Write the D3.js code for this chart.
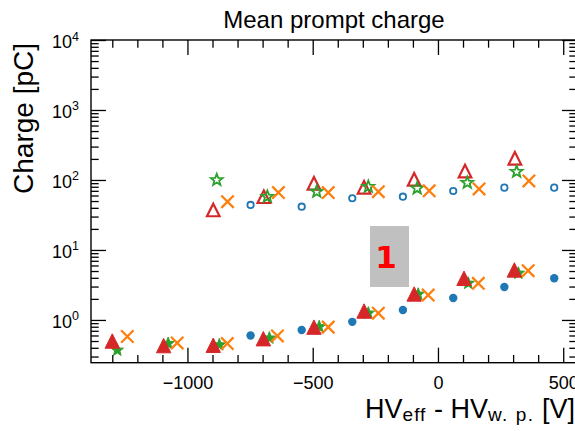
<!DOCTYPE html>
<html>
<head>
<meta charset="utf-8">
<script src="https://cdn.jsdelivr.net/npm/d3@7"></script>
<style>
  body { margin: 0; background: #fff; }
  svg { display: block; font-family: "Liberation Sans", Arial, sans-serif; }
</style>
</head>
<body>
<svg id="chart" width="575" height="431"></svg>
<script>
// blue circles (filled = low, open = high)
const blueX = [-748, -544, -342, -140, 61, 265, 464];
const blueLow = [0.60, 0.72, 0.94, 1.39, 2.06, 2.96, 3.94];
const blueHigh = [44, 41.5, 54.8, 57.7, 69.6, 77.7, 77.7];

// red triangles
const redX = [-1300, -1095, -897, -697, -495, -295, -95, 104, 305];
const redLow = [0.50, 0.43, 0.435, 0.54, 0.79, 1.34, 2.35, 3.94, 5.18];
const redHighX = [-897, -695, -495, -295, -95, 108, 307];
const redHigh = [37.3, 57.7, 89.8, 78.7, 102, 134, 204];

// green stars
const greenX = [-1280, -1077, -873, -673, -474, -278, -79, 121, 321];
const greenLow = [0.37, 0.46, 0.44, 0.55, 0.80, 1.25, 2.33, 3.34, 4.65];
const greenHighX = [-883, -681, -484, -278, -83, 117, 314];
const greenHigh = [100, 57.7, 68.2, 80, 76, 91.5, 131];

// orange crosses
const orangeX = [-1240, -1041, -841, -641, -438, -238, -39, 161, 360];
const orangeLow = [0.58, 0.47, 0.46, 0.59, 0.79, 1.25, 2.27, 3.34, 5.06];
const orangeHighX = [-840, -637, -438, -238, -35, 164, 363];
const orangeHigh = [49, 66, 66, 68, 70, 74.5, 97];

const xMajor = [-1000, -500, 0, 500];
const xMinor = d3.range(-1300, 600, 100).filter(v => xMajor.indexOf(v) < 0);
const yMajor = [1, 10, 100, 1000, 10000];
const yExp = ["0", "1", "2", "3", "4"];

const pL = 91, pR = 577, pT = 40, pB = 362.7;

const svg = d3.select("#chart");

const x = d3.scaleLinear().domain([-1385, 555]).range([pL, pR]);
const y = d3.scaleLog().domain([0.245, 10000]).range([pB, pT]);

let yMinor = [];
for (let e = -1; e < 4; e++) {
  for (let m = 2; m < 10; m++) {
    const v = m * Math.pow(10, e);
    if (v > y.domain()[0]) yMinor.push(v);
  }
}

const zip = (xs, ys) => xs.map((v, i) => ({ x: v, y: ys[i] }));

// ---- axes (ticks point inward on all four sides)
function styleAxis(g) {
  g.select(".domain").remove();
  g.selectAll(".tick line").attr("stroke", "#000").attr("stroke-width", 1.3);
  g.attr("font-family", null).attr("font-size", null);
}

svg.append("g")
  .attr("transform", `translate(0,${pB})`)
  .call(d3.axisBottom(x).tickValues(xMinor).tickSize(-7.7).tickSizeOuter(0).tickFormat(""))
  .call(styleAxis);

svg.append("g")
  .attr("transform", `translate(0,${pB})`)
  .call(d3.axisBottom(x).tickValues(xMajor).tickSize(-15).tickSizeOuter(0)
    .tickPadding(13.5).tickFormat(d3.format("d")))
  .call(styleAxis)
  .selectAll("text").attr("font-size", 18).attr("fill", "#000");

svg.append("g")
  .attr("transform", `translate(0,${pT})`)
  .call(d3.axisTop(x).tickValues(xMinor).tickSize(-7.7).tickSizeOuter(0).tickFormat(""))
  .call(styleAxis);

svg.append("g")
  .attr("transform", `translate(0,${pT})`)
  .call(d3.axisTop(x).tickValues(xMajor).tickSize(-15).tickSizeOuter(0).tickFormat(""))
  .call(styleAxis);

[[pL, d3.axisLeft], [pR, d3.axisRight]].forEach(([pos, ax]) => {
  svg.append("g")
    .attr("transform", `translate(${pos},0)`)
    .call(ax(y).tickValues(yMinor).tickSize(-7.7).tickSizeOuter(0).tickFormat(""))
    .call(styleAxis);
  svg.append("g")
    .attr("transform", `translate(${pos},0)`)
    .call(ax(y).tickValues(yMajor).tickSize(-15).tickSizeOuter(0).tickFormat(""))
    .call(styleAxis);
});

// y tick labels as 10^n
const yl = svg.append("g").attr("font-size", 18).attr("text-anchor", "end");
yMajor.forEach((v, i) => {
  const t = yl.append("text").attr("x", 79).attr("y", y(v) + 8).text("10");
  t.append("tspan").attr("dy", -7.5).attr("font-size", 12.5).text(yExp[i]);
});

// frame
svg.append("rect")
  .attr("x", pL).attr("y", pT)
  .attr("width", pR - pL).attr("height", pB - pT)
  .attr("fill", "none").attr("stroke", "#000").attr("stroke-width", 1.4);

// ---- markers
const tri = s => `M0,${-s}L${s},${s}L${-s},${s}Z`;
const star = (ro, ri) => {
  let p = "";
  for (let k = 0; k < 10; k++) {
    const r = k % 2 ? ri : ro;
    const a = -Math.PI / 2 + k * Math.PI / 5;
    p += (k ? "L" : "M") + (r * Math.cos(a)).toFixed(2) + "," + (r * Math.sin(a)).toFixed(2);
  }
  return p + "Z";
};
const cross = s => `M${-s},${-s}L${s},${s}M${-s},${s}L${s},${-s}`;

const blue = "#1f77b4", orange = "#ff7f0e", green = "#2ca02c", red = "#d62728";

const marks = svg.append("g");

function draw(data, path, fill, stroke, sw) {
  marks.append("g").selectAll("path")
    .data(data)
    .enter()
    .append("path")
    .attr("transform", d => `translate(${x(d.x)},${y(d.y)})`)
    .attr("d", path)
    .attr("fill", fill)
    .attr("stroke", stroke)
    .attr("stroke-width", sw)
    .attr("stroke-linejoin", "miter");
}

function drawCircles(data, r, fill, stroke, sw) {
  marks.append("g").selectAll("circle")
    .data(data)
    .enter()
    .append("circle")
    .attr("cx", d => x(d.x))
    .attr("cy", d => y(d.y))
    .attr("r", r)
    .attr("fill", fill)
    .attr("stroke", stroke)
    .attr("stroke-width", sw);
}

drawCircles(zip(blueX, blueLow), 4.2, blue, "none", 0);
drawCircles(zip(blueX, blueHigh), 3.2, "none", blue, 1.8);
draw(zip(greenX, greenLow), star(6.5, 2.7), green, green, 1);
draw(zip(redX, redLow), tri(7.2), red, red, 1);
draw(zip(redHighX, redHigh), tri(6.3), "none", red, 2.2);
draw(zip(greenHighX, greenHigh), star(6.2, 2.6), "none", green, 1.8);
draw(zip(orangeX, orangeLow), cross(6.2), "none", orange, 2.3);
draw(zip(orangeHighX, orangeHigh), cross(6.2), "none", orange, 2.3);

// ---- gray box with red label
svg.append("rect")
  .attr("x", 370).attr("y", 226).attr("width", 39).attr("height", 61)
  .attr("fill", "#c0c0c0");
svg.append("text")
  .attr("x", 386).attr("y", 268)
  .attr("text-anchor", "middle")
  .attr("font-family", "DejaVu Sans")
  .attr("font-weight", "bold")
  .attr("font-size", 31)
  .attr("fill", "#ff0000")
  .text("1");

// ---- titles
svg.append("text")
  .attr("x", (pL + pR) / 2).attr("y", 28)
  .attr("text-anchor", "middle")
  .attr("font-size", 24)
  .text("Mean prompt charge");

svg.append("text")
  .attr("transform", "translate(33,43) rotate(-90)")
  .attr("text-anchor", "end")
  .attr("font-size", 28)
  .text("Charge [pC]");

const xl = svg.append("text")
  .attr("x", 575).attr("y", 418)
  .attr("text-anchor", "end")
  .attr("font-size", 27);
xl.append("tspan").text("HV");
xl.append("tspan").attr("font-size", 19).attr("dy", 3).attr("letter-spacing", 1).text("eff");
xl.append("tspan").attr("dy", -3).text(" - HV");
xl.append("tspan").attr("font-size", 19).attr("dy", 3).attr("letter-spacing", 1.5).text("w. p.");
xl.append("tspan").attr("dy", -3).text(" [V]");
</script>
</body>
</html>
